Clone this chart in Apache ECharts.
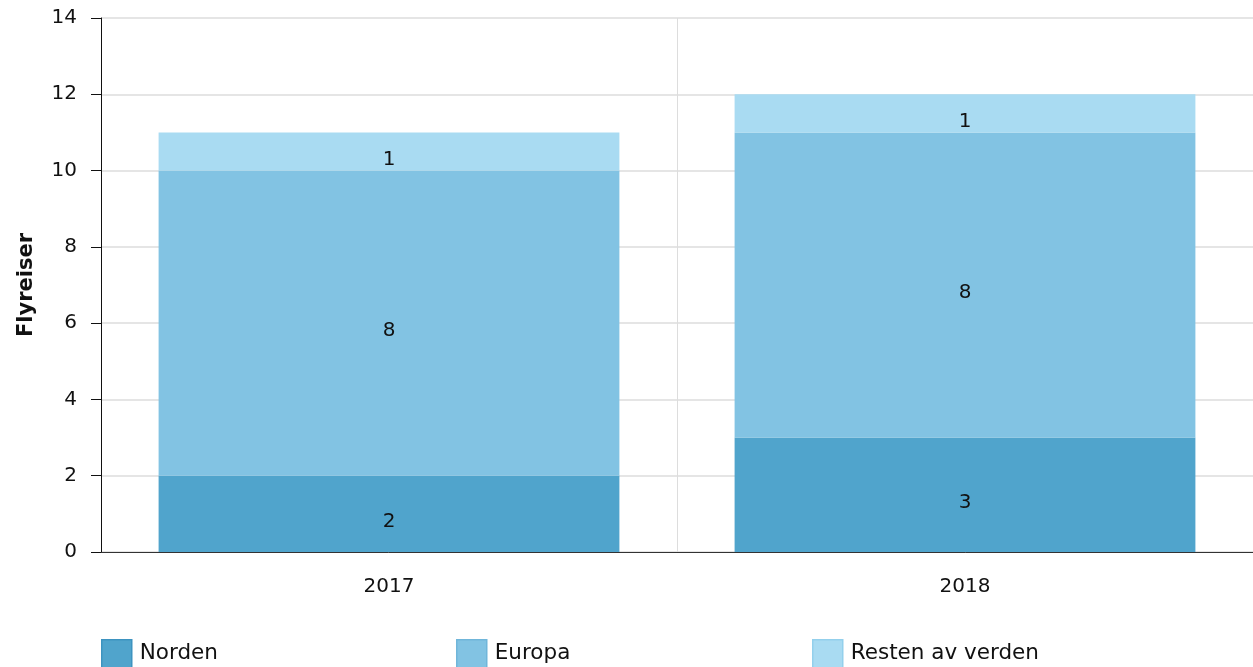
<!DOCTYPE html>
<html>
<head>
<meta charset="utf-8">
<script src="https://cdn.jsdelivr.net/npm/echarts@6/dist/echarts.min.js"></script>
<style>
    html, body { margin: 0; padding: 0; background: #fff; }
    #chart { width: 1253px; height: 667px; }
</style>
</head>
<body>
<div id="chart"></div>
<script>
var years = ["2017", "2018"];
var norden = [2, 3];
var europa = [8, 8];
var resten = [1, 1];
var seriesNames = ["Norden", "Europa", "Resten av verden"];
var colors = ["#50a4cc", "#82c3e3", "#a9dbf2"];
var borders = ["#3d93c0", "#70b6da", "#93d0ec"];

var font = "DejaVu Sans, Verdana, sans-serif";
var chart = echarts.init(document.getElementById("chart"));

function barSeries(name, data, color) {
    return {
        name: name,
        type: "bar",
        stack: "total",
        barCategoryGap: "20%",
        data: data,
        itemStyle: { color: color },
        label: {
            show: true,
            position: "inside",
            offset: [0, 8],
            color: "#111",
            fontSize: 20,
            fontFamily: font
        },
        emphasis: { disabled: true }
    };
}

// one legend per item so they sit at fixed spots
var legendLeft = [101, 456, 812];
var legends = seriesNames.map(function (n, i) {
    return {
        data: [{ name: n, icon: "rect", itemStyle: { borderColor: borders[i], borderWidth: 1.5 } }],
        left: legendLeft[i],
        top: 639,
        padding: 0,
        itemWidth: 30,
        itemHeight: 28,
        itemGap: 0,
        textStyle: { fontSize: 21.5, fontFamily: font, color: "#111", padding: [5, 0, 0, 3] },
        selectedMode: false
    };
});

var option = {
    animation: false,
    color: colors,
    textStyle: { fontFamily: font },
    grid: { left: 101, right: 0, top: 18, bottom: 115 },
    legend: legends,
    xAxis: {
        type: "category",
        data: years,
        axisLine: { lineStyle: { color: "#333", width: 1 } },
        axisTick: { alignWithLabel: true, length: 6, lineStyle: { color: "#999" } },
        axisLabel: { fontSize: 20, color: "#111", margin: 25, fontFamily: font },
        splitLine: { show: true, lineStyle: { color: "#ddd" } }
    },
    yAxis: {
        type: "value",
        min: 0,
        max: 14,
        interval: 2,
        name: "Flyreiser",
        nameLocation: "middle",
        nameGap: 64,
        nameTextStyle: { fontSize: 21, fontWeight: "bold", color: "#111", fontFamily: font },
        axisLine: { show: true, lineStyle: { color: "#111" } },
        axisTick: { show: true, length: 10, lineStyle: { color: "#111" } },
        axisLabel: { fontSize: 20, color: "#111", margin: 24, fontFamily: font },
        splitLine: { lineStyle: { color: "#ddd", width: 1.5 } }
    },
    series: [
        barSeries(seriesNames[0], norden, colors[0]),
        barSeries(seriesNames[1], europa, colors[1]),
        barSeries(seriesNames[2], resten, colors[2])
    ]
};

chart.setOption(option);
</script>
</body>
</html>
